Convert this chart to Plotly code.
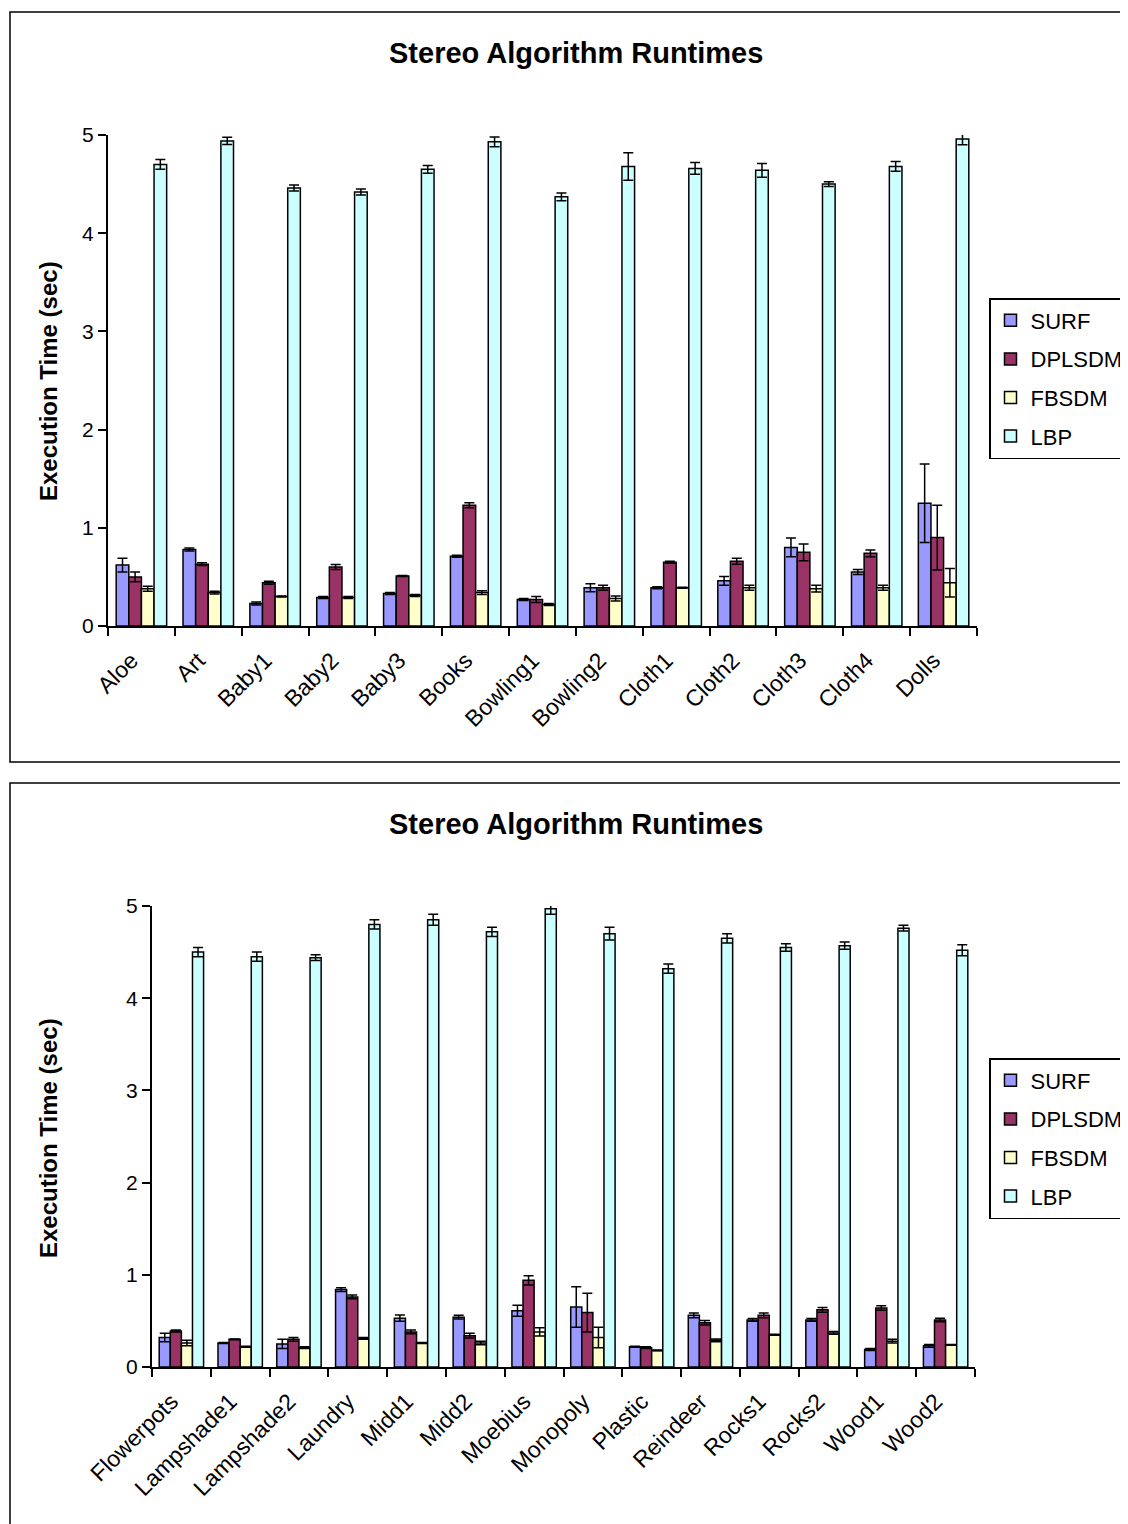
import plotly.graph_objects as go

# ---------------- data: top chart ----------------
cats_top = ["Aloe", "Art", "Baby1", "Baby2", "Baby3", "Books", "Bowling1",
            "Bowling2", "Cloth1", "Cloth2", "Cloth3", "Cloth4", "Dolls"]
surf_top = [0.62, 0.78, 0.23, 0.29, 0.33, 0.71, 0.27, 0.39, 0.39, 0.46, 0.80, 0.55, 1.25]
surf_top_err = [0.07, 0.015, 0.015, 0.01, 0.01, 0.01, 0.01, 0.04, 0.01, 0.045, 0.095, 0.025, 0.40]
dpl_top = [0.50, 0.63, 0.44, 0.60, 0.51, 1.23, 0.27, 0.39, 0.65, 0.66, 0.75, 0.74, 0.90]
dpl_top_err = [0.05, 0.015, 0.015, 0.025, 0.005, 0.025, 0.03, 0.025, 0.01, 0.03, 0.085, 0.035, 0.33]
fb_top = [0.38, 0.34, 0.30, 0.29, 0.31, 0.34, 0.22, 0.28, 0.39, 0.39, 0.38, 0.39, 0.44]
fb_top_err = [0.025, 0.015, 0.005, 0.01, 0.01, 0.02, 0.01, 0.025, 0.005, 0.025, 0.035, 0.025, 0.145]
lbp_top = [4.70, 4.94, 4.46, 4.42, 4.65, 4.93, 4.37, 4.68, 4.66, 4.64, 4.50, 4.68, 4.96]
lbp_top_err = [0.05, 0.036, 0.03, 0.03, 0.04, 0.05, 0.04, 0.14, 0.06, 0.07, 0.025, 0.05, 0.06]

# ---------------- data: bottom chart ----------------
cats_bot = ["Flowerpots", "Lampshade1", "Lampshade2", "Laundry", "Midd1", "Midd2",
            "Moebius", "Monopoly", "Plastic", "Reindeer", "Rocks1", "Rocks2",
            "Wood1", "Wood2"]
surf_bot = [0.32, 0.26, 0.25, 0.84, 0.53, 0.54, 0.61, 0.65, 0.22, 0.56, 0.51, 0.51, 0.19, 0.23]
surf_bot_err = [0.045, 0.005, 0.05, 0.02, 0.035, 0.02, 0.06, 0.22, 0.005, 0.025, 0.015, 0.015, 0.01, 0.015]
dpl_bot = [0.39, 0.30, 0.30, 0.76, 0.38, 0.34, 0.94, 0.59, 0.21, 0.48, 0.56, 0.62, 0.64, 0.51]
dpl_bot_err = [0.01, 0.005, 0.02, 0.02, 0.02, 0.025, 0.05, 0.21, 0.01, 0.025, 0.025, 0.025, 0.025, 0.02]
fb_bot = [0.26, 0.22, 0.21, 0.31, 0.26, 0.26, 0.38, 0.32, 0.18, 0.29, 0.35, 0.37, 0.28, 0.24]
fb_bot_err = [0.03, 0.005, 0.01, 0.01, 0.005, 0.02, 0.045, 0.11, 0.005, 0.015, 0.005, 0.015, 0.02, 0.005]
lbp_bot = [4.50, 4.45, 4.44, 4.80, 4.85, 4.72, 4.97, 4.70, 4.32, 4.65, 4.55, 4.57, 4.76, 4.52]
lbp_bot_err = [0.05, 0.05, 0.03, 0.05, 0.06, 0.05, 0.06, 0.07, 0.05, 0.05, 0.04, 0.04, 0.03, 0.06]

names = ["SURF", "DPLSDM", "FBSDM", "LBP"]
colors = ["#9999FF", "#993366", "#FFFFCC", "#CCFFFF"]

# page body has an 8px margin; the figure fills the rest of the window
OFF = 8
W, H = 1128 - OFF, 1524 - OFF
FONT = "Liberation Sans, Arial, sans-serif"


def px(x):
    return (x - OFF) / W


def py(y):
    return 1 - (y - OFF) / H


fig = go.Figure()

top_series = [(surf_top, surf_top_err), (dpl_top, dpl_top_err),
              (fb_top, fb_top_err), (lbp_top, lbp_top_err)]
bot_series = [(surf_bot, surf_bot_err), (dpl_bot, dpl_bot_err),
              (fb_bot, fb_bot_err), (lbp_bot, lbp_bot_err)]

for i, (vals, errs) in enumerate(top_series):
    fig.add_trace(go.Bar(
        x=cats_top, y=vals, name=names[i], xaxis="x", yaxis="y",
        marker=dict(color=colors[i], line=dict(color="black", width=1.5)),
        error_y=dict(type="data", array=errs, visible=True, color="black",
                     thickness=1.5, width=5),
        legend="legend", legendgroup="t" + names[i],
    ))

for i, (vals, errs) in enumerate(bot_series):
    fig.add_trace(go.Bar(
        x=cats_bot, y=vals, name=names[i], xaxis="x2", yaxis="y2",
        marker=dict(color=colors[i], line=dict(color="black", width=1.5)),
        error_y=dict(type="data", array=errs, visible=True, color="black",
                     thickness=1.5, width=5),
        legend="legend2", legendgroup="b" + names[i],
    ))

axis_font = dict(family=FONT, size=23, color="black")

xcommon = dict(type="category", showline=True, linecolor="black", linewidth=2,
               ticks="outside", tickson="boundaries", ticklen=8, tickwidth=2,
               tickcolor="black", tickangle=-45, tickfont=axis_font,
               ticklabelstandoff=10, ticklabelshift=-10,
               showgrid=False, zeroline=False, automargin=False)
ycommon = dict(range=[0, 5], dtick=1, showline=True, linecolor="black", linewidth=2,
               ticks="outside", ticklen=8, tickwidth=2, tickcolor="black",
               tickfont=dict(family=FONT, size=21, color="black"),
               showgrid=False, zeroline=False, automargin=False)

legend_common = dict(
    font=dict(family=FONT, size=22, color="black"),
    bordercolor="black", borderwidth=1.5, bgcolor="white",
    xanchor="left", yanchor="top", tracegroupgap=7, traceorder="grouped",
)

fig.update_layout(
    template="none",
    width=W, height=H,
    margin=dict(l=0, r=0, t=0, b=0, pad=0, autoexpand=False),
    paper_bgcolor="white", plot_bgcolor="white",
    font=dict(family=FONT, color="black"),
    barmode="group", bargap=0.245, bargroupgap=0,
    showlegend=True,
    xaxis=dict(domain=[px(108), px(977)], anchor="y", **xcommon),
    yaxis=dict(domain=[py(626), py(135)], anchor="x", **ycommon),
    xaxis2=dict(domain=[px(152), px(975)], anchor="y2", **xcommon),
    yaxis2=dict(domain=[py(1367), py(906)], anchor="x2", **ycommon),
    legend=dict(x=px(989), y=py(298), **legend_common),
    legend2=dict(x=px(989), y=py(1058), **legend_common),
    shapes=[
        dict(type="rect", xref="paper", yref="paper",
             x0=px(10), x1=px(1140), y0=py(762), y1=py(12),
             line=dict(color="black", width=1.5)),
        dict(type="rect", xref="paper", yref="paper",
             x0=px(10), x1=px(1140), y0=py(1535), y1=py(783),
             line=dict(color="black", width=1.5)),
    ],
    annotations=[
        dict(text="<b>Stereo Algorithm Runtimes</b>", xref="paper", yref="paper",
             x=px(576), y=py(53), xanchor="center", yanchor="middle", showarrow=False,
             font=dict(family=FONT, size=29, color="black")),
        dict(text="<b>Stereo Algorithm Runtimes</b>", xref="paper", yref="paper",
             x=px(576), y=py(824), xanchor="center", yanchor="middle", showarrow=False,
             font=dict(family=FONT, size=29, color="black")),
        dict(text="<b>Execution Time (sec)</b>", xref="paper", yref="paper",
             x=px(48), y=py(381), xanchor="center", yanchor="middle", showarrow=False,
             textangle=-90,
             font=dict(family=FONT, size=24, color="black")),
        dict(text="<b>Execution Time (sec)</b>", xref="paper", yref="paper",
             x=px(48), y=py(1138), xanchor="center", yanchor="middle", showarrow=False,
             textangle=-90,
             font=dict(family=FONT, size=24, color="black")),
    ],
)

fig.write_html("out.html")
